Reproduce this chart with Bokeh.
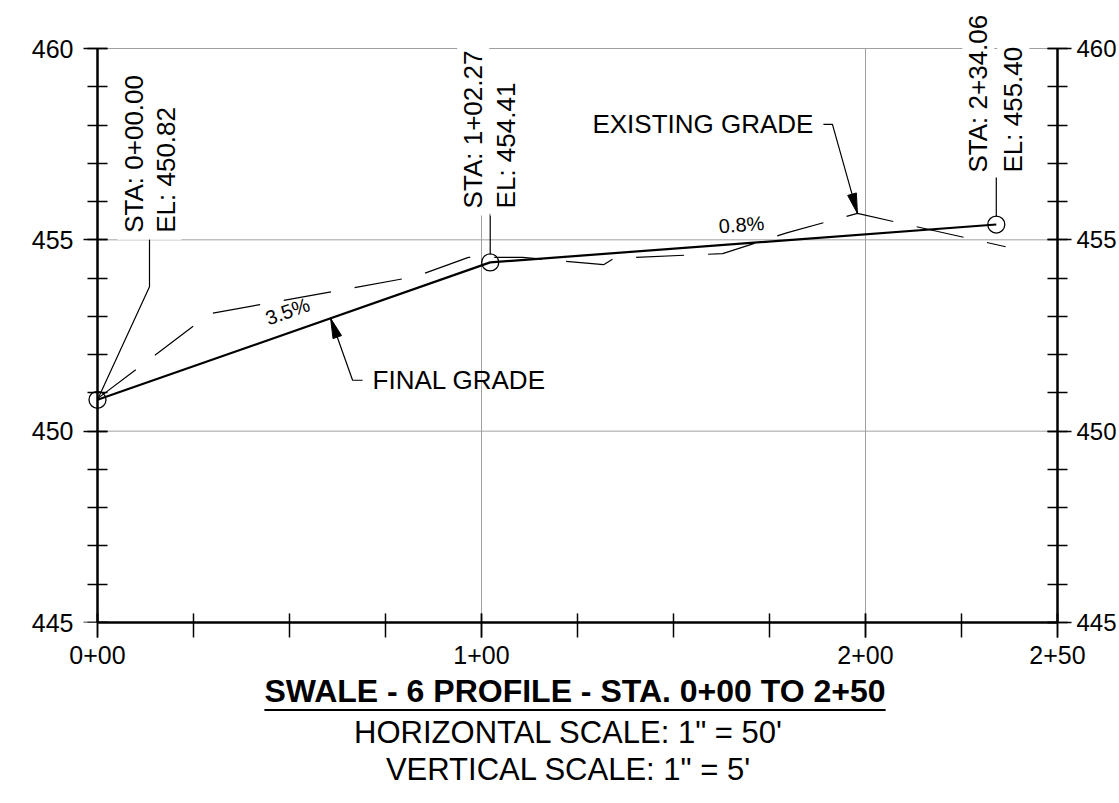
import math
import html as _html
from bokeh.plotting import figure
from bokeh.models import LinearAxis, FixedTicker, Label, Range1d, Div
from bokeh.layouts import column
from bokeh.embed import file_html
from bokeh.resources import INLINE

# ---------------- data ----------------
final_sta = [0.0, 102.27, 234.06]
final_el = [450.82, 454.41, 455.40]
sta_text = ["STA: 0+00.00", "STA: 1+02.27", "STA: 2+34.06"]
el_text = ["EL: 450.82", "EL: 454.41", "EL: 455.40"]

exist_sta = [0.0, 29.2, 82.8, 96.6, 110.7, 131.8, 134.6, 162.8, 179.7, 197.9, 236.5]
exist_el = [450.85, 453.07, 454.04, 454.54, 454.54, 454.35, 454.52, 454.64, 455.19, 455.69, 454.82]

slope_text = ["3.5%", "0.8%"]
x_ticks = [0, 100, 200, 250]
x_tick_labels = ["0+00", "1+00", "2+00", "2+50"]
x_minor = [25 * i for i in range(11)]
x_grid = [100, 200]
y_ticks = [445, 450, 455, 460]
y_minor = list(range(445, 461))
y_grid = [450, 455, 460]

title = "SWALE - 6 PROFILE - STA. 0+00 TO 2+50"
sub1 = 'HORIZONTAL SCALE: 1" = 50\''
sub2 = 'VERTICAL SCALE: 1" = 5\''

FONT = "Liberation Sans"
X0, X1, Y0, Y1 = 0, 250, 445, 460
SX = 960 / (X1 - X0)
SY = 574 / (Y1 - Y0)
LEFT_PAD = 16                     # pixels of frame left of station 0+00
TOP_PAD = 48                      # pixels of frame above elevation 460
FW = 960 + LEFT_PAD
FH = 574 + TOP_PAD

p = figure(output_backend="svg", toolbar_location=None,
           frame_width=FW, frame_height=FH,
           min_border_left=97 - LEFT_PAD, min_border_right=62, min_border_top=0,
           min_border_bottom=50,
           x_range=Range1d(X0 - LEFT_PAD / SX, X1), y_range=Range1d(Y0, Y1 + TOP_PAD / SY),
           x_axis_type=None, y_axis_type=None)
p.outline_line_color = None
p.background_fill_color = "white"
p.border_fill_color = "white"

def style_axis(ax, tin, tout, mtin, mtout):
    ax.axis_line_width = 2.5
    ax.axis_line_color = "black"
    ax.major_tick_in = tin
    ax.major_tick_out = tout
    ax.minor_tick_in = mtin
    ax.minor_tick_out = mtout
    ax.major_tick_line_width = 1.5
    ax.minor_tick_line_width = 1.5
    ax.major_tick_line_color = "black"
    ax.minor_tick_line_color = "black"
    ax.major_label_text_font = FONT
    ax.major_label_text_font_size = "25px"
    ax.major_label_text_color = "black"

xax = LinearAxis(ticker=FixedTicker(ticks=x_ticks, minor_ticks=x_minor), bounds=(X0, X1))
xax.major_label_overrides = {t: l for t, l in zip(x_ticks, x_tick_labels)}
style_axis(xax, 9, 15, 9, 15)
xax.major_label_standoff = 8
p.add_layout(xax, "below")

# left elevation labels (in the side panel)
ylab = LinearAxis(ticker=FixedTicker(ticks=y_ticks, minor_ticks=[]))
style_axis(ylab, 0, 0, 0, 0)
ylab.axis_line_color = None
ylab.major_tick_line_color = None
ylab.minor_tick_line_color = None
ylab.major_label_standoff = 97 - LEFT_PAD - 73
p.add_layout(ylab, "left")

# left axis line and ticks at station 0+00
yax = LinearAxis(ticker=FixedTicker(ticks=y_ticks, minor_ticks=y_minor), bounds=(Y0, Y1),
                 fixed_location=X0)
style_axis(yax, 10, 14, 10, 10)
yax.major_label_overrides = {t: "" for t in y_ticks}
p.add_layout(yax, "left")

yax2 = LinearAxis(ticker=FixedTicker(ticks=y_ticks, minor_ticks=y_minor), bounds=(Y0, Y1))
style_axis(yax2, 10, 14, 10, 10)
yax2.major_label_text_font_size = "24px"
yax2.major_label_standoff = 5
p.add_layout(yax2, "right")

# grid lines (limited to the profile area)
p.segment(x0=[X0] * len(y_grid), y0=y_grid, x1=[X1] * len(y_grid), y1=y_grid,
          line_color="#a0a0a0", line_width=1)
p.segment(x0=x_grid, y0=[Y0] * len(x_grid), x1=x_grid, y1=[Y1] * len(x_grid),
          line_color="#a0a0a0", line_width=1)

# existing grade (dashed) and final grade (solid)
p.line(exist_sta, exist_el, line_color="black", line_width=1.2, line_dash="48 24")
p.line(final_sta, final_el, line_color="black", line_width=2.2)
p.scatter(final_sta, final_el, marker="circle", size=17, fill_color=None,
          line_color="black", line_width=1.3)

# station label leaders (pixel offsets converted to data)
lead_x = [[final_sta[0], final_sta[0] + 52 / SX, final_sta[0] + 52 / SX],
          [final_sta[1], final_sta[1]],
          [final_sta[2], final_sta[2]]]
lead_y = [[final_el[0], final_el[0] + 113 / SY, final_el[0] + 161 / SY],
          [final_el[1] + 8 / SY, final_el[1] + 49 / SY],
          [final_el[2] + 8 / SY, final_el[2] + 47 / SY]]
p.multi_line(lead_x, lead_y, line_color="black", line_width=1.2)

# station labels (rotated, with white masks)
offs = [(36, 68, 160), (-17, 16, 47), (-18, 17, 45)]
for i in range(3):
    ox1, ox2, oy = offs[i]
    for txt, ox in ((sta_text[i], ox1), (el_text[i], ox2)):
        p.add_layout(Label(x=final_sta[i], y=final_el[i], x_offset=ox, y_offset=oy,
                           text=txt, angle=90, angle_units="deg",
                           text_align="left", text_baseline="middle",
                           text_font=FONT, text_font_size="26px", text_color="black",
                           background_fill_color="white", padding=(7, 7, 1, 1)))

# slope labels
def ang(i):
    return math.degrees(math.atan((final_el[i + 1] - final_el[i]) * SY /
                                  ((final_sta[i + 1] - final_sta[i]) * SX)))
p.add_layout(Label(x=49.5, y=453.13, text=slope_text[0], angle=ang(0), angle_units="deg",
                   text_align="center", text_baseline="middle", text_font=FONT,
                   text_font_size="20px", text_color="black"))
p.add_layout(Label(x=167.7, y=455.40, text=slope_text[1], angle=ang(1), angle_units="deg",
                   text_align="center", text_baseline="middle", text_font=FONT,
                   text_font_size="20px", text_color="black"))

# arrows with callouts
def arrowhead(tx, ty, bx, by, L=20, W=4.5):
    ux, uy = (bx - tx) * SX, (by - ty) * SY
    n = math.hypot(ux, uy)
    ux, uy = ux / n, uy / n
    cx, cy = ux * L, uy * L
    px, py = -uy * W, ux * W
    xs = [tx, tx + (cx + px) / SX, tx + (cx - px) / SX]
    ys = [ty, ty + (cy + py) / SY, ty + (cy - py) / SY]
    return xs, ys

fg_x = 60.7
fg_y = final_el[0] + (final_el[1] - final_el[0]) * fg_x / final_sta[1]
fb_x, fb_y = fg_x + 22 / SX, fg_y - 62 / SY
p.line([fg_x, fb_x, fb_x + 10 / SX], [fg_y, fb_y, fb_y], line_color="black", line_width=1.2)
hx, hy = arrowhead(fg_x, fg_y, fb_x, fb_y)
p.patch(hx, hy, fill_color="black", line_color="black", line_width=1)
p.add_layout(Label(x=fb_x, y=fb_y, x_offset=20, text="FINAL GRADE", text_align="left",
                   text_baseline="middle", text_font=FONT, text_font_size="26px",
                   text_color="black"))

eg_x, eg_y = exist_sta[9], exist_el[9]
eb_x, eb_y = eg_x - 25 / SX, eg_y + 89 / SY
p.line([eg_x, eb_x, eb_x - 9 / SX], [eg_y, eb_y, eb_y], line_color="black", line_width=1.2)
hx, hy = arrowhead(eg_x, eg_y, eb_x, eb_y)
p.patch(hx, hy, fill_color="black", line_color="black", line_width=1)
p.add_layout(Label(x=eb_x, y=eb_y, x_offset=-19, text="EXISTING GRADE", text_align="right",
                   text_baseline="middle", text_font=FONT, text_font_size="26px",
                   text_color="black"))

# title block below the plot
e = _html.escape
line_css = ("position:absolute;left:0;width:1119px;box-sizing:border-box;"
            "text-align:center;white-space:nowrap;")
block = (
    "<div style=\"position:relative;width:1119px;height:131px;"
    "font-family:'Liberation Sans',Arial,sans-serif;color:#000;\">"
    f"<div style=\"{line_css}padding-left:31px;top:3px;font-size:32px;line-height:32px;font-weight:bold;\">"
    "<span style=\"text-decoration:underline;text-decoration-thickness:1.5px;"
    f"text-underline-offset:7px;\">{e(title)}</span></div>"
    f"<div style=\"{line_css}padding-left:17px;top:45px;font-size:31px;line-height:31px;\">{e(sub1)}</div>"
    f"<div style=\"{line_css}padding-left:17px;top:82px;font-size:31px;line-height:31px;\">{e(sub2)}</div>"
    "</div>"
)
div = Div(text=block, width=1119, height=131, margin=(0, 0, 0, 0))

layout = column(p, div, spacing=0)
open("out.html", "w").write(file_html(layout, INLINE))
